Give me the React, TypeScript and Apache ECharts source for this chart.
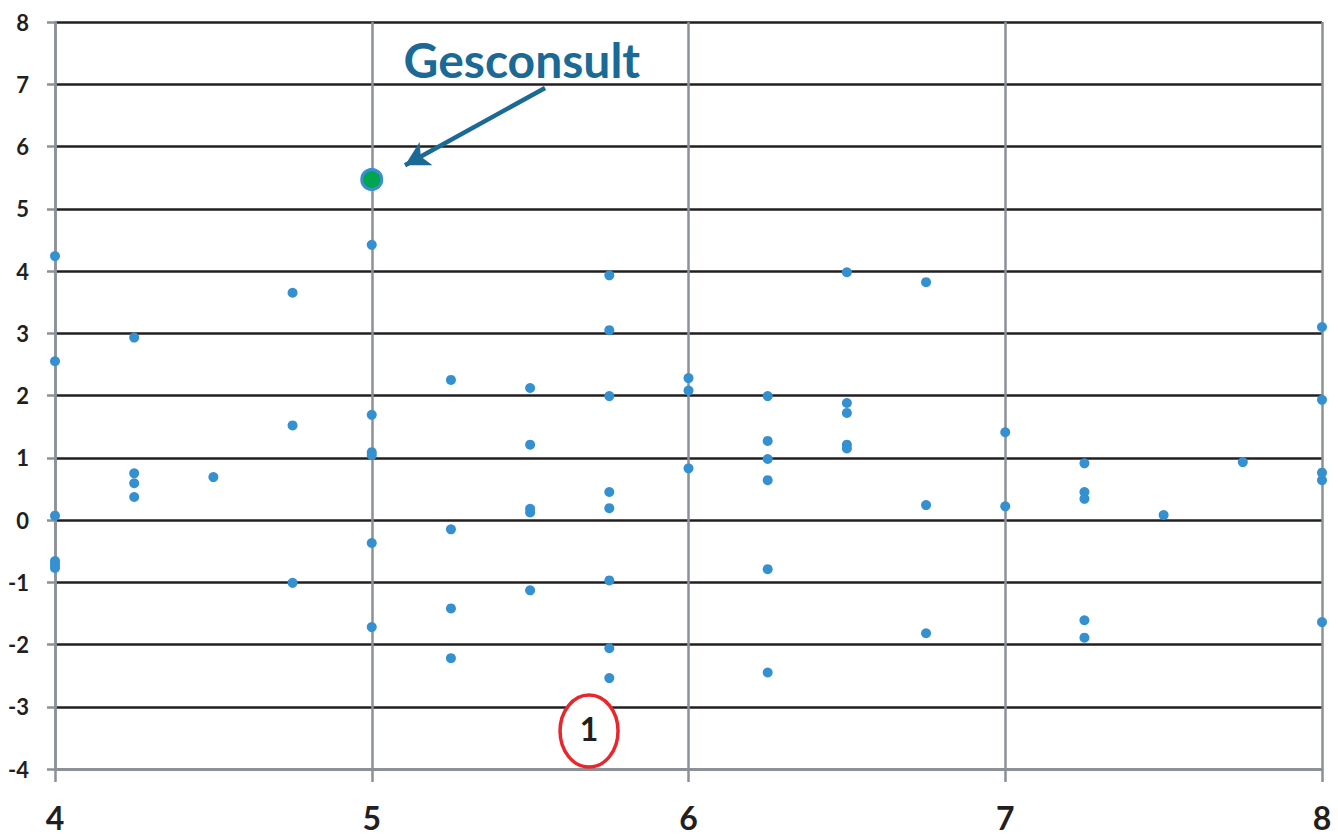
import React, { useEffect, useRef } from "react";
import * as echarts from "echarts";

// Axis ticks
const xTickValues = [4, 5, 6, 7, 8];
const yTickValues = [-4, -3, -2, -1, 0, 1, 2, 3, 4, 5, 6, 7, 8];

// Scatter points (x, y)
const pointX = [
  4, 4, 4, 4, 4, 4,
  4.25, 4.25, 4.25, 4.25,
  4.5,
  4.75, 4.75, 4.75,
  5, 5, 5, 5, 5, 5,
  5.25, 5.25, 5.25, 5.25,
  5.5, 5.5, 5.5, 5.5, 5.5,
  5.75, 5.75, 5.75, 5.75, 5.75, 5.75, 5.75, 5.75,
  6, 6, 6,
  6.25, 6.25, 6.25, 6.25, 6.25, 6.25,
  6.5, 6.5, 6.5, 6.5, 6.5,
  6.75, 6.75, 6.75,
  7, 7,
  7.25, 7.25, 7.25, 7.25, 7.25,
  7.5,
  7.75,
  8, 8, 8, 8, 8,
];
const pointY = [
  4.24, 2.55, 0.07, -0.66, -0.72, -0.77,
  2.93, 0.75, 0.59, 0.37,
  0.69,
  3.65, 1.52, -1.01,
  4.42, 1.69, 1.09, 1.04, -0.37, -1.72,
  2.25, -0.15, -1.42, -2.22,
  2.12, 1.21, 0.18, 0.12, -1.13,
  3.93, 3.05, 1.99, 0.45, 0.19, -0.97, -2.06, -2.54,
  2.28, 2.08, 0.83,
  1.99, 1.27, 0.98, 0.64, -0.79, -2.45,
  3.98, 1.88, 1.72, 1.21, 1.15,
  3.82, 0.24, -1.82,
  1.41, 0.22,
  0.91, 0.45, 0.34, -1.61, -1.89,
  0.08,
  0.93,
  3.1, 1.93, 0.76, 0.64, -1.64,
];

// Highlighted company
const highlightName = "Gesconsult";
const highlightPoint = [5, 5.47];

// Annotation anchors (data coordinates)
const labelAnchor = [5.474, 7.4];
const arrowFrom = [5.547, 6.94];
const arrowTo = [5.105, 5.7];
const circleAnchor = [5.686, -3.39];
const circleText = "1";

const FONT = "Lato, 'Open Sans', sans-serif";

export default function App() {
  const ref = useRef<HTMLDivElement>(null);

  useEffect(() => {
    if (!ref.current) return;
    const chart = echarts.init(ref.current, undefined, { renderer: "svg" });
    const points = pointX.map((x, i) => [x, pointY[i]]);
    const grey = "#8b9197";
    const black = "#231f20";
    chart.setOption({
      animation: false,
      backgroundColor: "#ffffff",
      grid: { left: 55, right: 16, top: 22, bottom: 66, containLabel: false },
      xAxis: {
        type: "value",
        min: xTickValues[0],
        max: xTickValues[xTickValues.length - 1],
        interval: 1,
        axisLine: { show: true, onZero: false, lineStyle: { color: grey, width: 3 } },
        axisTick: { show: true, length: 13, lineStyle: { color: grey, width: 2.5 } },
        axisLabel: {
          margin: 32,
          color: black,
          fontFamily: FONT,
          fontWeight: "bold",
          fontSize: 32,
        },
        splitLine: { show: true, lineStyle: { color: grey, width: 2.5 } },
      },
      yAxis: {
        type: "value",
        min: yTickValues[0],
        max: yTickValues[yTickValues.length - 1],
        interval: 1,
        axisLine: { show: true, onZero: false, lineStyle: { color: grey, width: 2.5 } },
        axisTick: { show: true, length: 8, lineStyle: { color: grey, width: 2.5 } },
        axisLabel: {
          margin: 26,
          color: black,
          fontFamily: FONT,
          fontWeight: "bold",
          fontSize: 22,
        },
        splitLine: { show: true, lineStyle: { color: black, width: 2.5 } },
      },
      series: [
        {
          type: "scatter",
          data: points,
          symbol: "circle",
          symbolSize: 10,
          itemStyle: { color: "#3590d0", opacity: 1 },
          silent: true,
          z: 3,
        },
        {
          type: "scatter",
          name: highlightName,
          data: [highlightPoint],
          symbol: "circle",
          symbolSize: 20,
          itemStyle: { color: "#00a54f", borderColor: "#3a8fd0", borderWidth: 3, opacity: 1 },
          silent: true,
          z: 4,
          markLine: {
            silent: true,
            symbol: ["none", "arrow"],
            symbolSize: [20, 24],
            label: { show: false },
            lineStyle: { color: "#1b6a96", width: 4.5, type: "solid", opacity: 1 },
            data: [[{ coord: arrowFrom }, { coord: arrowTo }]],
          },
        },
      ],
    });

    const lp = chart.convertToPixel({ gridIndex: 0 }, labelAnchor);
    const cp = chart.convertToPixel({ gridIndex: 0 }, circleAnchor);
    chart.setOption({
      graphic: [
        {
          type: "text",
          x: lp[0],
          y: lp[1],
          z: 10,
          style: {
            text: highlightName,
            fill: "#1b6a96",
            font: `bold 48px ${FONT}`,
            align: "center",
            verticalAlign: "middle",
          },
        },
        {
          type: "ellipse",
          z: 10,
          shape: { cx: cp[0], cy: cp[1], rx: 29, ry: 36 },
          style: { fill: "#ffffff", stroke: "#e8262b", lineWidth: 3.5 },
        },
        {
          type: "text",
          x: cp[0],
          y: cp[1] - 3,
          z: 11,
          style: {
            text: circleText,
            fill: black,
            font: `bold 32px ${FONT}`,
            align: "center",
            verticalAlign: "middle",
          },
        },
      ],
    });

    return () => chart.dispose();
  }, []);

  return (
    <div
      ref={ref}
      style={{ position: "absolute", left: 0, top: 0, width: 1338, height: 835 }}
    />
  );
}
